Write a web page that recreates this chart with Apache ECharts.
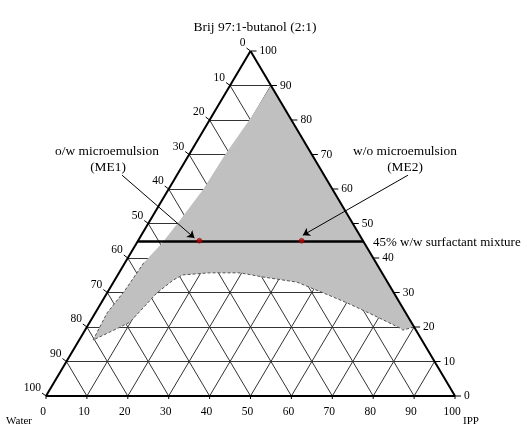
<!DOCTYPE html>
<html>
<head>
<meta charset="utf-8">
<script src="https://cdn.jsdelivr.net/npm/echarts@6/dist/echarts.min.js"></script>
<style>
html, body { margin: 0; padding: 0; background: #fff; }
#chart { width: 527px; height: 425px; }
</style>
</head>
<body>
<div id="chart"></div>
<script>
// tick percentages on all three sides
var ticks = [0, 10, 20, 30, 40, 50, 60, 70, 80, 90, 100];

// microemulsion region boundary, points as [IPP %, surfactant mix %]
var regionUpper = [[10, 90], [9.8, 81], [8.8, 70], [8.5, 60], [7.3, 51], [6.2, 44.3], [4.6, 38.6]];
var regionLower = [[4, 30.7], [2.9, 24.1], [3.4, 16.2], [7.8, 19.7], [9.8, 21.4], [12.2, 29.9],
  [14.3, 33.6], [15.9, 35.1], [22.2, 35.7], [29.6, 35.7], [35.8, 34.5], [44.9, 33], [52.8, 29.9],
  [60.1, 27], [68.2, 23.5], [76.7, 19.7], [77.7, 19.1], [80, 20]];

// 45% surfactant dilution line and chosen formulations [IPP %, surfactant %]
var surfactantLevel = 45;
var me1 = [15, 45];
var me2 = [40, 45];

// ternary (IPP, surfactant) -> cartesian x/y on 0..100 axes
function tern(p, s) {
  return [p + s / 2, s];
}

var chart = echarts.init(document.getElementById('chart'));

var gridLines = [];
ticks.forEach(function (k) {
  if (k === 0 || k === 100) return;
  gridLines.push({ coords: [tern(0, k), tern(100 - k, k)] });        // surfactant const
  gridLines.push({ coords: [tern(k, 0), tern(k, 100 - k)] });        // IPP const
  gridLines.push({ coords: [tern(100 - k, 0), tern(0, 100 - k)] });  // water const
});

var outline = [
  { coords: [tern(0, 0), tern(100, 0)] },
  { coords: [tern(100, 0), tern(0, 100)] },
  { coords: [tern(0, 100), tern(0, 0)] }
];

var region = regionUpper.concat(regionLower);
var dashedEdge = [regionUpper[regionUpper.length - 1]].concat(regionLower);

// side: 0 bottom (IPP), 1 right (surfactant), 2 left (water)
var tickData = [];
ticks.forEach(function (k) {
  tickData.push([0, k]);
  tickData.push([1, k]);
  tickData.push([2, k]);
});

var serif = '"Liberation Serif", "DejaVu Serif", serif';
var txt = function (x, y, s, size, align) {
  return { type: 'text', x: x, y: y, style: { text: s, font: size + 'px ' + serif, fill: '#000', align: align || 'center', verticalAlign: 'middle' } };
};

var option = {
  animation: false,
  grid: { left: 46, right: 72, top: 51, bottom: 29 },
  xAxis: { type: 'value', min: 0, max: 100, show: false },
  yAxis: { type: 'value', min: 0, max: 100, show: false },
  title: {
    text: 'Brij 97:1-butanol (2:1)',
    left: 250, top: 15, textAlign: 'center',
    textStyle: { fontFamily: serif, fontSize: 13.5, fontWeight: 'normal', color: '#000' }
  },
  graphic: [
    txt(107, 151, 'o/w microemulsion', 13.4),
    txt(108, 167, '(ME1)', 13.4),
    txt(405, 151, 'w/o microemulsion', 13.4),
    txt(405, 167, '(ME2)', 13.4),
    txt(373, 243, '45% w/w surfactant mixture', 13, 'left'),
    txt(19, 421, 'Water', 11),
    txt(471, 421, 'IPP', 11)
  ],
  series: [
    {
      type: 'lines', coordinateSystem: 'cartesian2d', z: 1, silent: true,
      lineStyle: { color: '#333', width: 1, opacity: 1 },
      data: gridLines
    },
    {
      type: 'custom', z: 2, silent: true,
      data: [0],
      renderItem: function (params, api) {
        var pts = region.map(function (d) { return api.coord(tern(d[0], d[1])); });
        return { type: 'polygon', shape: { points: pts }, style: { fill: '#c0c0c0', stroke: null } };
      }
    },
    {
      type: 'line', z: 3, silent: true, symbol: 'none',
      lineStyle: { color: '#555', width: 1, type: [3, 2] },
      data: dashedEdge.map(function (d) { return tern(d[0], d[1]); })
    },
    {
      type: 'lines', coordinateSystem: 'cartesian2d', z: 4, silent: true,
      lineStyle: { color: '#000', width: 2, opacity: 1 },
      data: outline
    },
    {
      type: 'lines', coordinateSystem: 'cartesian2d', z: 4, silent: true,
      lineStyle: { color: '#000', width: 2.5, opacity: 1 },
      data: [{ coords: [tern(0, surfactantLevel), tern(100 - surfactantLevel, surfactantLevel)] }]
    },
    {
      type: 'lines', coordinateSystem: 'cartesian2d', z: 5, silent: true,
      symbol: ['none', 'arrow'], symbolSize: 7,
      lineStyle: { color: '#000', width: 1, opacity: 1 },
      data: [
        { coords: [[18.6, 64], [tern(me1[0], me1[1])[0] - 1.2, me1[1] + 0.8]] },
        { coords: [[88.5, 64], [tern(me2[0], me2[1])[0] + 0.3, me2[1] + 1.6]] }
      ]
    },
    {
      type: 'scatter', z: 6, silent: true,
      symbolSize: 5,
      itemStyle: { color: '#d00000', borderColor: '#600', borderWidth: 0.5 },
      data: [tern(me1[0], me1[1]), tern(me2[0], me2[1])]
    },
    {
      type: 'custom', z: 6, silent: true,
      data: tickData,
      renderItem: function (params, api) {
        var side = api.value(0), k = api.value(1);
        var pt, tick, text;
        var font = '11.5px ' + serif;
        if (side === 0) {
          pt = api.coord(tern(k, 0));
          tick = [pt[0], pt[1], pt[0], pt[1] + 3];
          text = { x: pt[0] - 3, y: pt[1] + 16, text: String(k), align: 'center' };
        } else if (side === 1) {
          pt = api.coord(tern(100 - k, k));
          tick = [pt[0], pt[1], pt[0] + 6, pt[1]];
          text = { x: pt[0] + 9, y: pt[1], text: String(k), align: 'left' };
        } else {
          pt = api.coord(tern(0, 100 - k));
          tick = [pt[0], pt[1], pt[0] - 4, pt[1] - 3];
          text = { x: pt[0] - 5, y: pt[1] - 8, text: String(k), align: 'right' };
        }
        return {
          type: 'group',
          children: [
            { type: 'line', shape: { x1: tick[0], y1: tick[1], x2: tick[2], y2: tick[3] }, style: { stroke: '#000', lineWidth: 1 } },
            { type: 'text', style: { x: text.x, y: text.y, text: text.text, font: font, fill: '#000', align: text.align, verticalAlign: 'middle' } }
          ]
        };
      }
    }
  ]
};

chart.setOption(option);
</script>
</body>
</html>
